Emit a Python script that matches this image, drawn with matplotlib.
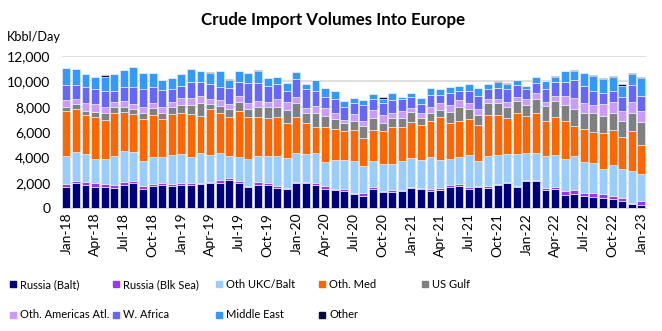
import numpy as np
import matplotlib.pyplot as plt
from matplotlib.lines import Line2D
from matplotlib.ticker import FuncFormatter

plt.rcParams['font.family'] = ['Lato', 'DejaVu Sans']

# month labels Jan-18 .. Jan-23
mon = ['Jan', 'Feb', 'Mar', 'Apr', 'May', 'Jun', 'Jul', 'Aug', 'Sep', 'Oct', 'Nov', 'Dec']
months = [f'{m}-{y}' for y in range(18, 23) for m in mon] + ['Jan-23']

# kbbl/day by source
russia_balt = [1680, 1950, 1790, 1680, 1680, 1550, 1790, 1950, 1470, 1760,
               1820, 1740, 1790, 1840, 1870, 1950, 2000, 2210, 1950, 1630,
               1820, 1840, 1550, 1470, 1950, 1950, 1840, 1530, 1420, 1370,
               1100, 970, 1470, 1290, 1290, 1320, 1550, 1470, 1340, 1420,
               1630, 1740, 1530, 1630, 1610, 1790, 1950, 1630, 2100, 2100,
               1420, 1470, 1000, 1100, 950, 890, 820, 740, 580, 340, 220]
russia_blk = [210, 180, 290, 290, 210, 270, 240, 150, 240, 130,
              180, 180, 160, 160, 130, 130, 180, 180, 180, 130,
              210, 110, 160, 130, 80, 100, 160, 180, 80, 160,
              110, 190, 160, 80, 130, 130, 110, 110, 160, 130,
              210, 150, 150, 110, 130, 100, 130, 110, 80, 80,
              130, 210, 320, 320, 260, 270, 260, 230, 210, 80, 300]
oth_ukc = [2210, 2290, 2180, 1900, 1980, 2280, 2470, 2350, 2000, 2140,
           2000, 2260, 2310, 2000, 2340, 2100, 2140, 1710, 1920, 2080,
           2070, 2150, 2390, 2370, 2290, 2210, 2320, 1920, 2320, 2290,
           2500, 2160, 2110, 2100, 2050, 2290, 2260, 2210, 2500, 2240,
           2050, 2110, 2480, 2000, 2360, 2290, 2180, 2520, 2190, 2140,
           2550, 2530, 2520, 2680, 2450, 2370, 1970, 2400, 2310, 2530, 2160]
oth_med = [3560, 3400, 3060, 3290, 3100, 3370, 3100, 3000, 3290, 3290,
           3000, 3220, 3210, 3400, 2950, 3660, 3150, 3110, 3630, 3370,
           3110, 3030, 3110, 2770, 2890, 2420, 2100, 2790, 2440, 2260,
           2450, 2230, 2420, 2630, 2900, 2630, 2900, 2760, 2840, 3370,
           2790, 2870, 2870, 2810, 3220, 3160, 2870, 3210, 2920, 3150,
           2770, 2950, 3030, 2400, 2580, 2500, 2900, 2790, 2530, 3130, 2310]
us_gulf = [340, 380, 340, 440, 500, 480, 400, 340, 530, 580,
           500, 550, 660, 730, 970, 370, 580, 580, 710, 580,
           790, 870, 790, 1000, 1050, 850, 1050, 870, 770, 600,
           730, 920, 940, 640, 710, 760, 760, 580, 630, 580,
           920, 1080, 760, 770, 940, 980, 870, 1000, 870, 1110,
           1180, 1310, 1260, 1340, 1290, 1440, 1340, 1310, 1260, 1450, 1770]
oth_americas = [530, 430, 660, 610, 530, 390, 450, 450, 420, 420,
                450, 450, 580, 530, 580, 370, 480, 420, 450, 530,
                470, 400, 580, 660, 480, 390, 580, 630, 440, 270,
                530, 420, 640, 580, 450, 550, 310, 400, 530, 520,
                530, 580, 470, 520, 350, 260, 370, 320, 470, 470,
                350, 400, 710, 820, 790, 690, 890, 870, 770, 810, 920]
w_africa = [1150, 1110, 1230, 1210, 1260, 900, 1100, 1310, 1420, 1230,
            1350, 1000, 950, 1310, 1130, 1180, 1000, 1240, 1130, 1520,
            1420, 1260, 1210, 840, 1440, 1450, 1210, 870, 1110, 1050,
            840, 1240, 890, 1000, 1000, 900, 850, 650, 890, 630,
            920, 680, 950, 1000, 790, 920, 1000, 890, 740, 790,
            1000, 1100, 1130, 1440, 1310, 1080, 920, 920, 1130, 1370, 1130]
middle_east = [1350, 1210, 1000, 950, 1110, 1310, 1350, 1550, 1260, 1130,
               800, 840, 920, 980, 870, 900, 1260, 650, 870, 840,
               900, 580, 530, 600, 560, 420, 840, 710, 680, 470,
               420, 400, 370, 310, 570, 160, 340, 480, 560, 480,
               480, 420, 550, 610, 360, 470, 420, 420, 290, 530,
               650, 400, 820, 720, 1000, 1180, 1080, 1080, 870, 870, 1450]
other = [0, 0, 0, 0, 100, 0, 0, 0, 0, 0,
         0, 0, 0, 0, 0, 80, 0, 110, 0, 0,
         110, 0, 0, 0, 0, 0, 0, 0, 0, 0,
         0, 0, 0, 110, 0, 0, 0, 0, 0, 0,
         0, 0, 0, 0, 0, 80, 100, 0, 0, 0,
         0, 80, 0, 80, 0, 80, 110, 80, 100, 80, 80]

series = [
    ('Russia (Balt)', russia_balt, '#00007F'),
    ('Russia (Blk Sea)', russia_blk, '#9933FF'),
    ('Oth UKC/Balt', oth_ukc, '#99CCFF'),
    ('Oth. Med', oth_med, '#FF6600'),
    ('US Gulf', us_gulf, '#808080'),
    ('Oth. Americas Atl.', oth_americas, '#CC99FF'),
    ('W. Africa', w_africa, '#6666FF'),
    ('Middle East', middle_east, '#3399FF'),
    ('Other', other, '#0A0A40'),
]

fig = plt.figure(figsize=(6.62, 3.31), dpi=100)
ax = fig.add_axes([0.093, 0.3716, 0.883, 0.4592])

x = np.arange(len(months))
bottom = np.zeros(len(months))
for name, vals, col in series:
    vals = np.array(vals, dtype=float)
    ax.bar(x, vals, 0.83, bottom=bottom, color=col, edgecolor='#E4ECF6',
           linewidth=0.5, zorder=3)
    bottom += vals

ax.set_xlim(-0.5, len(months) - 0.5)
ax.set_ylim(0, 12000)
ax.set_yticks(range(0, 12001, 2000))
ax.yaxis.set_major_formatter(FuncFormatter(lambda v, p: f'{v:,.0f}'))
ax.grid(axis='y', color='#D9D9D9', linewidth=1.2, zorder=0)
for s in ['top', 'right', 'left']:
    ax.spines[s].set_visible(False)
ax.spines['bottom'].set_color('#D9D9D9')
ax.set_xticks(x[::3])
ax.set_xticklabels(months[::3], rotation=90)
ax.tick_params(axis='both', length=0, labelsize=10)
ax.tick_params(axis='y', pad=8)

fig.text(0.503, 0.94, 'Crude Import Volumes Into Europe', ha='center', va='center',
         fontsize=12.2, fontweight='bold')
fig.text(7 / 662, 1 - 37 / 331, 'Kbbl/Day', ha='left', va='center', fontsize=9.2)

# legend: 5 columns, 2 rows
col_x = [9, 112, 215, 318, 421]
for j in range(5):
    items = [series[j]] + ([series[j + 5]] if j + 5 < len(series) else [])
    handles = [Line2D([], [], ls='', marker='s', markersize=4.2, color=c) for _, _, c in items]
    labels = [n for n, _, _ in items]
    fig.legend(handles, labels, loc='upper left',
               bbox_to_anchor=(col_x[j] / 662, 1 - 279 / 331),
               frameon=False, fontsize=8, handlelength=0.7, handletextpad=0.3,
               borderpad=0, borderaxespad=0, labelspacing=1.75)

fig.savefig('out.png', dpi=100)
